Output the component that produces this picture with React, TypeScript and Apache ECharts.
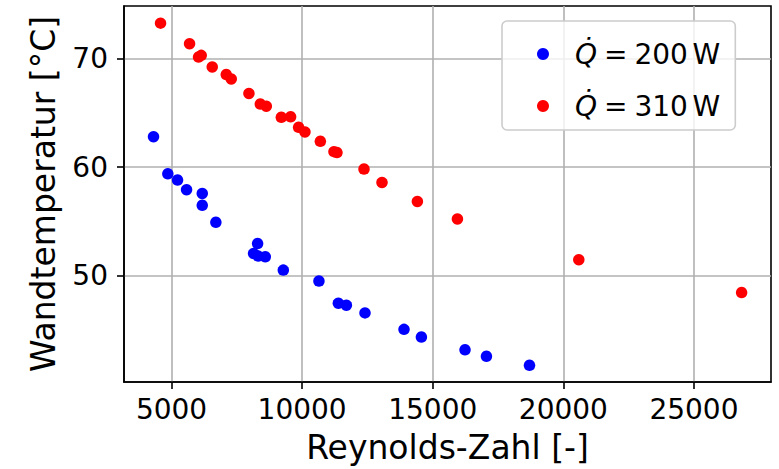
import React, { useEffect, useRef } from "react";
import * as echarts from "echarts";

const reBlue = [4310, 4858, 5230, 5575, 6176, 6176, 6697, 8295, 8141, 8321, 8589, 9279, 10643, 11387, 11693, 12406, 13900, 14566, 16236, 17056, 18704];
const tBlue = [62.81, 59.39, 58.81, 57.92, 57.58, 56.48, 54.92, 52.96, 52.05, 51.8, 51.74, 50.51, 49.5, 47.46, 47.28, 46.57, 45.05, 44.34, 43.17, 42.57, 41.74];
const reRed = [4579, 5690, 6034, 6137, 6558, 7095, 7286, 7963, 8398, 8628, 9203, 9559, 9865, 10107, 10697, 11218, 11333, 12368, 13057, 14412, 15945, 20592, 26825];
const tRed = [73.27, 71.38, 70.15, 70.3, 69.23, 68.53, 68.13, 66.79, 65.81, 65.62, 64.59, 64.64, 63.67, 63.24, 62.38, 61.43, 61.34, 59.82, 58.59, 56.84, 55.23, 51.47, 48.44];
const xTicks = [5000, 10000, 15000, 20000, 25000];
const yTicks = [50, 60, 70];
const seriesNames = ["Q200", "Q310"];
const legendValues = ["200", "310"];

const FONT = "DejaVu Sans";

export default function App() {
  const ref = useRef<HTMLDivElement>(null);
  useEffect(() => {
    if (!ref.current) return;
    const chart = echarts.init(ref.current, null, { renderer: "svg" });
    const pair = (xs: number[], ys: number[]) => xs.map((x, i) => [x, ys[i]]);
    chart.setOption({
      animation: false,
      backgroundColor: "#fff",
      textStyle: { fontFamily: FONT },
      grid: {
        left: 124,
        right: 8,
        top: 6,
        bottom: 86,
        show: true,
        borderColor: "#000",
        borderWidth: 1.6,
        backgroundColor: "transparent",
      },
      xAxis: {
        type: "value",
        min: 3180,
        max: 27950,
        name: "Reynolds-Zahl [-]",
        nameLocation: "middle",
        nameGap: 49,
        nameTextStyle: { fontSize: 33, color: "#000", fontFamily: FONT },
        axisLine: { show: true, onZero: false, lineStyle: { color: "#000", width: 1.6 } },
        axisTick: { show: true, length: 7, customValues: xTicks, lineStyle: { color: "#000", width: 1.6 } },
        axisLabel: {
          customValues: xTicks,
          margin: 13,
          fontSize: 28,
          color: "#000",
          fontFamily: FONT,
          formatter: (v: number) => String(v),
        },
        splitLine: { show: true, lineStyle: { color: "#b0b0b0", width: 1.6 } },
      },
      yAxis: {
        type: "value",
        min: 40.2,
        max: 74.85,
        name: "Wandtemperatur [°C]",
        nameLocation: "middle",
        nameGap: 64.5,
        nameTextStyle: { fontSize: 33, color: "#000", fontFamily: FONT },
        axisLine: { show: true, onZero: false, lineStyle: { color: "#000", width: 1.6 } },
        axisTick: { show: true, length: 7, customValues: yTicks, lineStyle: { color: "#000", width: 1.6 } },
        axisLabel: {
          customValues: yTicks,
          margin: 16,
          fontSize: 28,
          color: "#000",
          fontFamily: FONT,
          formatter: (v: number) => String(v),
        },
        splitLine: { show: true, lineStyle: { color: "#b0b0b0", width: 1.6 } },
      },
      legend: {
        orient: "vertical",
        left: 502,
        top: 21,
        padding: [19, 15, 10, 35],
        itemWidth: 54,
        itemHeight: 12,
        itemGap: 24,
        icon: "circle",
        backgroundColor: "rgba(255,255,255,0.8)",
        borderColor: "#cccccc",
        borderWidth: 1.6,
        borderRadius: 5,
        data: seriesNames,
        formatter: (name: string) => {
          const idx = seriesNames.indexOf(name);
          return "{q|Q\u0307}\u2005=\u2005" + legendValues[idx] + "\u2006W";
        },
        textStyle: {
          fontSize: 28,
          fontFamily: FONT,
          color: "#000",
          rich: {
            q: { fontStyle: "italic", fontSize: 28, fontFamily: FONT, color: "#000" },
          },
        },
      },
      series: [
        {
          name: seriesNames[0],
          type: "scatter",
          symbol: "circle",
          symbolSize: 11.5,
          itemStyle: { color: "#0000ff", opacity: 1 },
          data: pair(reBlue, tBlue),
        },
        {
          name: seriesNames[1],
          type: "scatter",
          symbol: "circle",
          symbolSize: 11.5,
          itemStyle: { color: "#ff0000", opacity: 1 },
          data: pair(reRed, tRed),
        },
      ],
    });
    return () => chart.dispose();
  }, []);
  return <div ref={ref} style={{ width: 779, height: 469, position: "absolute", left: 0, top: 0 }} />;
}
